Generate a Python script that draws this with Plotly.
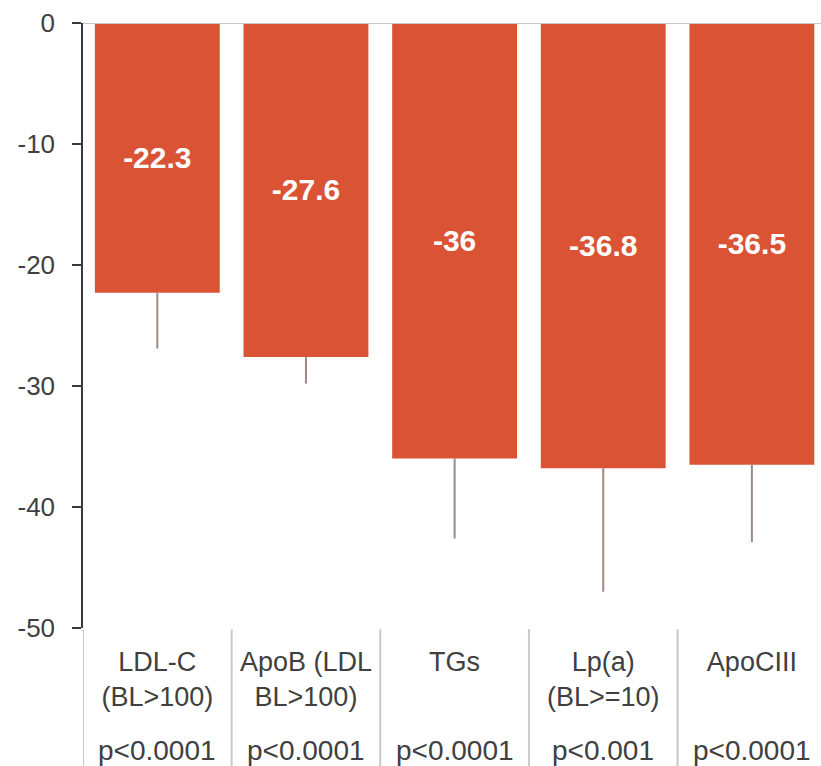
import plotly.graph_objects as go

# Percent change from baseline by lipid parameter
categories = ["LDL-C<br>(BL>100)", "ApoB (LDL<br>BL>100)", "TGs", "Lp(a)<br>(BL>=10)", "ApoCIII"]
pct_change = [-22.3, -27.6, -36, -36.8, -36.5]
error_down = [4.6, 2.2, 6.6, 10.2, 6.4]
p_values = ["p<0.0001", "p<0.0001", "p<0.0001", "p<0.001", "p<0.0001"]
y_ticks = [0, -10, -20, -30, -40, -50]

BAR_COLOR = "#db5335"
TEXT_COLOR = "#404040"
GRID_GRAY = "#cfc7c3"
FONT = "Liberation Sans, Arial, sans-serif"

x_pos = list(range(len(categories)))
# plain hyphen-minus for value and tick labels
bar_text = [f"{v:g}" for v in pct_change]
y_tick_text = [f"{v:g}" for v in y_ticks]

fig = go.Figure()
fig.add_trace(go.Bar(
    x=x_pos,
    y=pct_change,
    width=0.84,
    marker=dict(color=BAR_COLOR, line=dict(width=0)),
    error_y=dict(type="data", symmetric=False, array=[0] * len(error_down),
                 arrayminus=error_down, color="#9b8b82", thickness=2, width=0),
    text=bar_text,
    textposition="inside",
    insidetextanchor="middle",
    textangle=0,
    constraintext="none",
    textfont=dict(family=FONT, size=30, color="white", weight="bold"),
    hoverinfo="skip",
))

shapes = [
    # zero line across the top of the plot
    dict(type="line", xref="paper", yref="y", x0=0, x1=1, y0=0, y1=0,
         line=dict(color=GRID_GRAY, width=2), layer="above"),
]
# category separators beneath the plot area
for b in [-0.5, 0.5, 1.5, 2.5, 3.5]:
    shapes.append(dict(type="line", xref="x", yref="paper", x0=b, x1=b, y0=-0.002, y1=-0.25,
                       line=dict(color=GRID_GRAY, width=2)))

annotations = [
    dict(x=i, y=-0.2017, xref="x", yref="paper", text=p, showarrow=False,
         xanchor="center", yanchor="middle",
         font=dict(family=FONT, size=28, color=TEXT_COLOR))
    for i, p in enumerate(p_values)
]

fig.update_layout(
    width=821, height=766,
    margin=dict(l=83, r=0, t=23, b=138),
    paper_bgcolor="white", plot_bgcolor="white",
    showlegend=False,
    shapes=shapes,
    annotations=annotations,
    xaxis=dict(
        range=[-0.5, 4.465],
        tickmode="array", tickvals=x_pos, ticktext=categories,
        showgrid=False, zeroline=False, showline=False, ticks="",
        tickfont=dict(family=FONT, size=27, color=TEXT_COLOR),
        ticklabelstandoff=15,
    ),
    yaxis=dict(
        range=[-50, 0],
        tickmode="array", tickvals=y_ticks, ticktext=y_tick_text,
        showgrid=False, zeroline=False,
        showline=True, linecolor="#3a3a3a", linewidth=1.5,
        ticks="outside", ticklen=9, tickcolor="#3a3a3a", tickwidth=1.5,
        tickfont=dict(family=FONT, size=26, color=TEXT_COLOR),
        ticklabelstandoff=12,
    ),
)

fig.write_html("out.html")
